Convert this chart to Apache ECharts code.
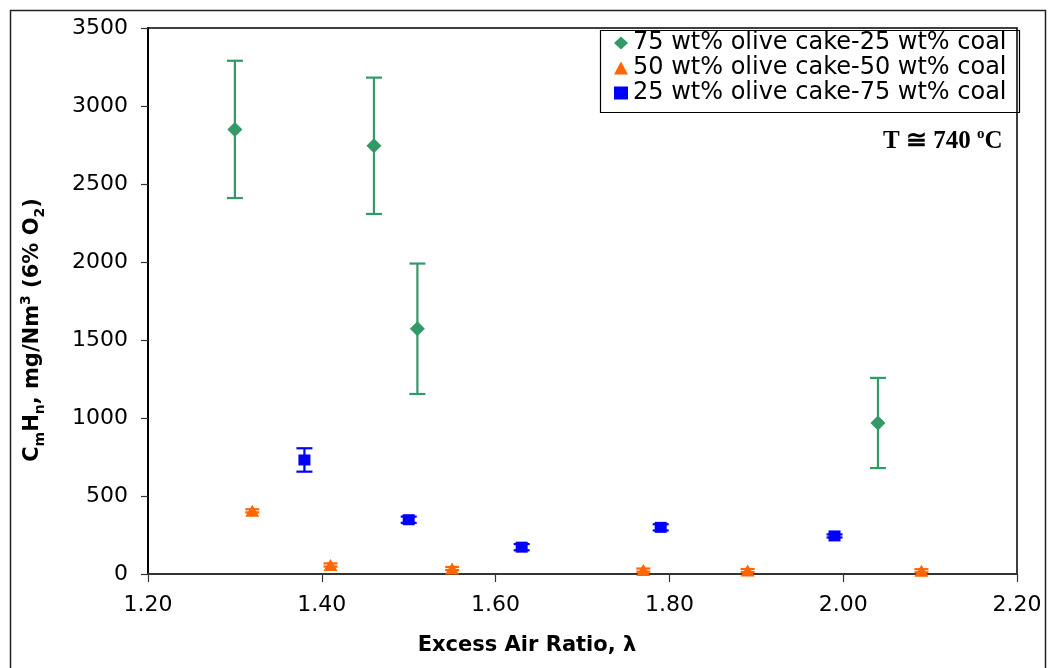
<!DOCTYPE html>
<html><head><meta charset="utf-8">
<script src="https://cdn.jsdelivr.net/npm/echarts@6/dist/echarts.min.js"></script>
<style>html,body{margin:0;padding:0;background:#fff}#c{width:1049px;height:668px}</style>
</head><body><div id="c"></div>
<script>
const seriesNames = ['75 wt% olive cake-25 wt% coal', '50 wt% olive cake-50 wt% coal', '25 wt% olive cake-75 wt% coal'];
const greenX = [1.30, 1.46, 1.51, 2.04];
const greenY = [2850, 2745, 1572, 968];
const greenErr = [440, 437, 418, 289];
const orangeX = [1.32, 1.41, 1.55, 1.77, 1.89, 2.09];
const orangeY = [405, 58, 35, 25, 22, 21];
const orangeErr = [10, 10, 10, 10, 10, 10];
const blueX = [1.38, 1.50, 1.63, 1.79, 1.99];
const blueY = [731, 348, 172, 299, 244];
const blueErr = [75, 20, 20, 20, 10];
const xTicks = ['1.20', '1.40', '1.60', '1.80', '2.00', '2.20'];
const yTicks = ['0', '500', '1000', '1500', '2000', '2500', '3000', '3500'];

const FONT = 'DejaVu Sans';
function pts(xs, ys) { return xs.map((x, i) => [x, ys[i]]); }
function errs(xs, ys, es) { return xs.map((x, i) => [x, ys[i] - es[i], ys[i] + es[i]]); }
function errSeries(name, data, color, capHalf, z) {
  return {
    type: 'custom', name: name, data: data, z: z, silent: true,
    renderItem: function (params, api) {
      const x = api.coord([api.value(0), api.value(1)])[0];
      const lo = api.coord([api.value(0), api.value(1)])[1];
      const hi = api.coord([api.value(0), api.value(2)])[1];
      const st = { stroke: color, lineWidth: 2.2 };
      return { type: 'group', children: [
        { type: 'line', shape: { x1: x, y1: lo, x2: x, y2: hi }, style: st },
        { type: 'line', shape: { x1: x - capHalf, y1: lo, x2: x + capHalf, y2: lo }, style: st },
        { type: 'line', shape: { x1: x - capHalf, y1: hi, x2: x + capHalf, y2: hi }, style: st }
      ]};
    }
  };
}
const chart = echarts.init(document.getElementById('c'));
chart.setOption({
  backgroundColor: '#fff',
  animation: false,
  grid: { left: 148, top: 28, right: 32, bottom: 94, show: true, borderColor: '#000', borderWidth: 1.5 },
  xAxis: {
    type: 'value', min: 1.2, max: 2.2, interval: 0.2,
    axisLine: { lineStyle: { color: '#333', width: 2 } },
    axisTick: { show: true, inside: false, length: 8, lineStyle: { color: '#333', width: 1.2 } },
    axisLabel: { fontFamily: FONT, fontSize: 22, color: '#000', margin: 20,
      formatter: function (v) { const i = Math.round((v - 1.2) / 0.2); return xTicks[i] || ''; } },
    splitLine: { show: false }
  },
  yAxis: {
    type: 'value', min: 0, max: 3500, interval: 500,
    axisLine: { show: true, lineStyle: { color: '#000', width: 2 } },
    axisTick: { show: true, inside: false, length: 7, lineStyle: { color: '#333', width: 1.2 } },
    axisLabel: { fontFamily: FONT, fontSize: 22, color: '#000', margin: 20,
      formatter: function (v) { const i = Math.round(v / 500); return yTicks[i] || ''; } },
    splitLine: { show: false }
  },
  legend: {
    data: seriesNames, orient: 'vertical', left: 614, top: 31, padding: 0,
    itemWidth: 14, itemHeight: 13, itemGap: 1,
    itemStyle: { opacity: 1 },
    textStyle: { fontFamily: FONT, fontSize: 24, color: '#000', lineHeight: 23.5 }
  },
  graphic: [
    { type: 'rect', left: 8, top: 8, shape: { width: 1035, height: 680 }, style: { fill: 'none', stroke: '#222', lineWidth: 1.5 }, silent: true, z: 100 },
    { type: 'rect', left: 598, top: 28, shape: { width: 419, height: 82 }, style: { fill: 'none', stroke: '#000', lineWidth: 1.2 }, silent: true, z: 100 },
    { type: 'text', x: 527, y: 646, style: { text: 'Excess Air Ratio, λ', font: 'bold 21px "DejaVu Sans"', fill: '#000', align: 'center', verticalAlign: 'middle' }, z: 100 },
    { type: 'text', x: 33, y: 330, rotation: Math.PI / 2,
      style: {
        text: '{b|C}{s|m}{b|H}{s|n}{b|, mg/Nm}{p|3}{b| (6% O}{s|2}{b|)}',
        align: 'center', verticalAlign: 'middle', fill: '#000',
        rich: {
          b: { fontFamily: FONT, fontWeight: 'bold', fontSize: 21, lineHeight: 28, verticalAlign: 'middle' },
          s: { fontFamily: FONT, fontWeight: 'bold', fontSize: 14, lineHeight: 16, verticalAlign: 'bottom' },
          p: { fontFamily: FONT, fontWeight: 'bold', fontSize: 14, lineHeight: 16, verticalAlign: 'top' }
        }
      }, z: 100 },
    { type: 'text', x: 883, y: 142,
      style: {
        text: '{t|T ≅ 740 }{o|o}{t|C}', align: 'left', verticalAlign: 'middle', fill: '#000',
        rich: {
          t: { fontFamily: 'Liberation Serif', fontWeight: 'bold', fontSize: 25, lineHeight: 30, verticalAlign: 'middle' },
          o: { fontFamily: 'Liberation Serif', fontWeight: 'bold', fontSize: 15, lineHeight: 18, verticalAlign: 'top' }
        }
      }, z: 100 }
  ],
  series: [
    errSeries('errG', errs(greenX, greenY, greenErr), '#339966', 8, 2),
    errSeries('errO', errs(orangeX, orangeY, orangeErr), '#FF6600', 7, 2),
    errSeries('errB', errs(blueX, blueY, blueErr), '#0000FF', 8, 2),
    { type: 'scatter', name: seriesNames[0], data: pts(greenX, greenY), symbol: 'diamond', symbolSize: [15, 15], itemStyle: { color: '#339966', opacity: 1 }, z: 5 },
    { type: 'scatter', name: seriesNames[1], data: pts(orangeX, orangeY), symbol: 'triangle', symbolSize: [14, 12], itemStyle: { color: '#FF6600', opacity: 1 }, z: 5 },
    { type: 'scatter', name: seriesNames[2], data: pts(blueX, blueY), symbol: 'rect', symbolSize: [12, 11], itemStyle: { color: '#0000FF', opacity: 1 }, z: 5 }
  ]
});
</script></body></html>
